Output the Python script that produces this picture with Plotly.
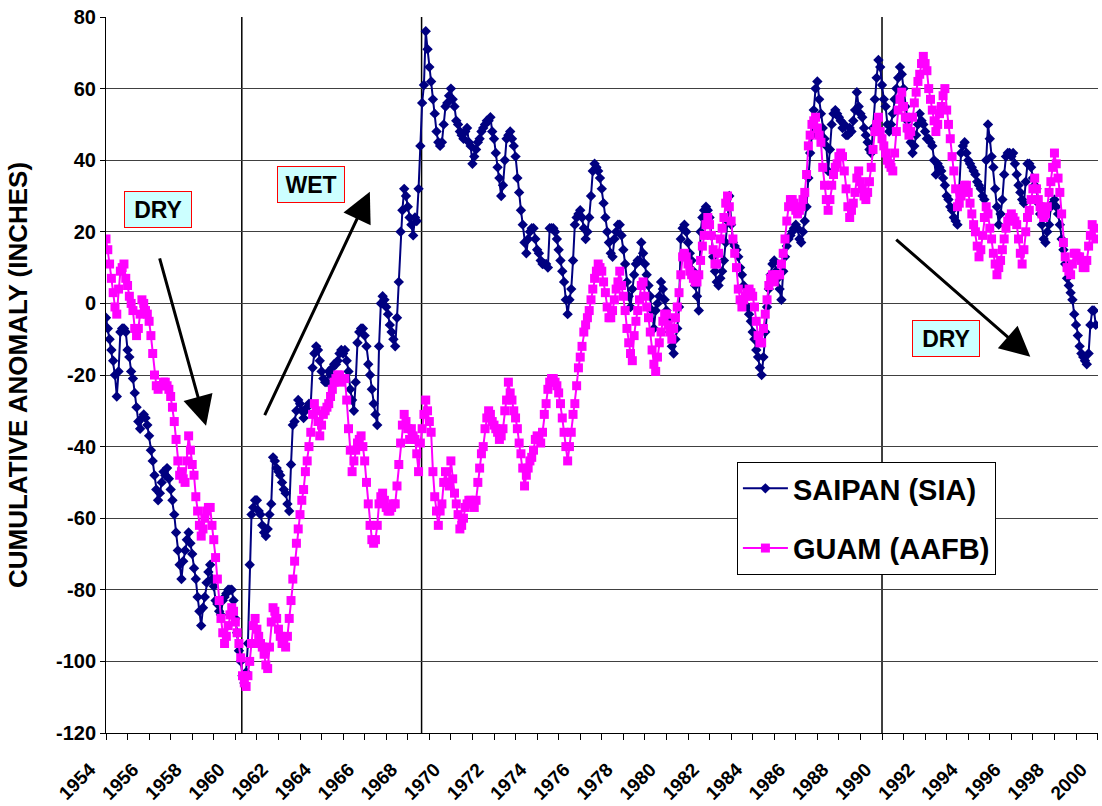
import numpy as np
import plotly.graph_objects as go

FONT = "Liberation Sans, Arial, sans-serif"
START_YEAR = 1954

# Cumulative monthly rainfall anomaly (inches), January 1954 .. December 1999
saipan = [
    -4, -7, -10, -13, -16, -20, -26, -19, -8, -7, -7, -8,            # 1954
    -13, -15, -19, -21, -25, -29, -33, -35, -32, -31, -32, -34,      # 1955
    -37, -41, -44, -48, -52, -55, -53, -50, -47, -48, -46, -49,      # 1956
    -52, -55, -59, -64, -69, -73, -77, -72, -69, -66, -64, -67,      # 1957
    -70, -74, -77, -82, -86, -90, -85, -82, -78, -75, -73, -77,      # 1958
    -79, -83, -84, -86, -87, -83, -82, -81, -80, -80, -80, -83,      # 1959
    -88, -92, -97, -100, -104, -106, -103, -95, -73, -59, -57, -55,  # 1960
    -55, -58, -59, -62, -64, -65, -63, -59, -56, -43, -44, -46,      # 1961
    -47, -48, -50, -52, -53, -56, -58, -45, -34, -33, -30, -27,      # 1962
    -28, -30, -32, -30, -29, -28, -28, -18, -14, -12, -13, -16,      # 1963
    -19, -21, -22, -22, -19, -20, -18, -17, -17, -16, -14, -13,      # 1964
    -14, -13, -16, -19, -24, -27, -30, -22, -11, -8, -7, -7,         # 1965
    -9, -12, -17, -20, -24, -28, -31, -34, -12, 0, 2, 1,             # 1966
    -1, -3, -6, -8, -10, -12, -4, 6, 20, 26, 32, 30,                 # 1967
    27, 24, 22, 19, 24, 23, 32, 44, 56, 61, 76, 71,                  # 1968
    66, 62, 57, 53, 48, 45, 44, 45, 50, 55, 56, 58,                  # 1969
    60, 57, 55, 51, 50, 48, 47, 46, 48, 49, 45, 44,                  # 1970
    39, 41, 43, 45, 46, 48, 49, 50, 51, 51, 52, 48,                  # 1971
    46, 42, 38, 35, 30, 33, 40, 46, 47, 48, 46, 44,                  # 1972
    41, 35, 31, 26, 22, 17, 14, 18, 20, 21, 21, 18,                  # 1973
    15, 14, 12, 11, 11, 11, 10, 21, 21, 21, 20, 18,                  # 1974
    15, 12, 9, 6, 1, -3, 1, 4, 12, 22, 24, 25,                       # 1975
    26, 24, 21, 18, 20, 24, 30, 37, 39, 38, 37, 35,                  # 1976
    32, 28, 24, 20, 17, 14, 13, 18, 20, 22, 22, 19,                  # 1977
    15, 11, 6, 2, -1, 4, 8, 11, 12, 12, 17, 14,                      # 1978
    11, 8, 5, 2, -2, -7, -2, 0, 2, 6, 4, 1,                          # 1979
    -2, -5, -8, -12, -14, -10, -7, -1, 18, 21, 22, 20,               # 1980
    17, 14, 12, 9, 5, 2, -2, 20, 24, 26, 27, 26,                     # 1981
    24, 19, 13, 9, 6, 5, 7, 9, 12, 17, 23, 30,                       # 1982
    22, 17, 16, 15, 13, 10, 8, 5, 2, -1, -3, -5,                     # 1983
    -8, -10, -13, -15, -18, -20, -15, -8, -1, 4, 8, 11,              # 1984
    12, 9, 7, 4, 1, 9, 13, 16, 18, 19, 20, 21,                       # 1985
    22, 21, 18, 17, 20, 23, 27, 35, 42, 47, 54, 60,                  # 1986
    62, 57, 53, 49, 46, 44, 37, 43, 50, 53, 54, 53,                  # 1987
    52, 51, 49, 50, 47, 47, 49, 48, 51, 54, 59, 55,                  # 1988
    53, 52, 49, 47, 45, 43, 42, 49, 57, 63, 68, 66,                  # 1989
    61, 57, 55, 50, 48, 50, 53, 57, 60, 63, 66, 64,                  # 1990
    60, 55, 51, 48, 45, 42, 44, 47, 50, 53, 51, 50,                  # 1991
    48, 46, 46, 45, 44, 40, 36, 39, 38, 37, 35, 33,                  # 1992
    30, 29, 27, 26, 24, 23, 22, 32, 42, 44, 45, 42,                  # 1993
    40, 39, 38, 37, 36, 34, 33, 32, 30, 29, 40, 50,                  # 1994
    46, 41, 38, 32, 27, 22, 25, 29, 36, 41, 42, 42,                  # 1995
    41, 42, 39, 36, 33, 31, 29, 28, 34, 39, 39, 38,                  # 1996
    35, 33, 32, 28, 25, 22, 18, 17, 20, 22, 27, 28,                  # 1997
    29, 27, 25, 22, 18, 15, 11, 7, 5, 3, 1, -3,                      # 1998
    -6, -9, -12, -14, -15, -16, -17, -14, -6, -2, -2, -6,            # 1999
]

guam = [
    18, 15, 11, 7, 3, -1, -3, 4, 9, 10, 11, 7,                       # 1954
    5, 2, 0, -2, -7, -9, -7, -3, 1, 0, -2, -3,                       # 1955
    -5, -9, -14, -20, -23, -24, -23, -23, -22, -22, -23, -24,        # 1956
    -26, -29, -33, -38, -44, -48, -47, -49, -50, -44, -37, -41,      # 1957
    -45, -48, -54, -58, -62, -65, -63, -60, -58, -57, -57, -62,      # 1958
    -66, -71, -77, -83, -88, -92, -95, -93, -90, -87, -85, -86,      # 1959
    -89, -92, -95, -99, -104, -106, -107, -104, -100, -95, -90, -88, # 1960
    -91, -93, -95, -96, -98, -101, -102, -96, -89, -85, -86, -88,    # 1961
    -91, -93, -95, -95, -96, -93, -88, -83, -77, -72, -67, -63,      # 1962
    -59, -55, -52, -47, -44, -40, -36, -31, -28, -30, -33, -37,      # 1963
    -34, -31, -30, -29, -28, -26, -24, -22, -21, -20, -20, -22,      # 1964
    -21, -21, -27, -35, -41, -47, -44, -41, -39, -38, -37, -40,      # 1965
    -44, -50, -56, -62, -66, -67, -66, -62, -56, -54, -53, -55,      # 1966
    -57, -58, -58, -57, -56, -56, -51, -45, -39, -34, -31, -33,      # 1967
    -35, -38, -35, -37, -38, -42, -47, -39, -35, -31, -27, -30,      # 1968
    -33, -36, -47, -54, -58, -62, -58, -56, -50, -47, -50, -51,      # 1969
    -44, -49, -53, -56, -59, -63, -62, -60, -57, -56, -55, -55,      # 1970
    -56, -57, -55, -50, -46, -42, -40, -35, -32, -30, -31, -33,      # 1971
    -34, -35, -36, -38, -37, -35, -30, -27, -22, -25, -27, -30,      # 1972
    -32, -35, -39, -42, -46, -51, -48, -46, -44, -43, -41, -38,      # 1973
    -37, -38, -39, -36, -31, -28, -24, -22, -21, -21, -22, -23,      # 1974
    -25, -28, -32, -36, -40, -44, -40, -36, -31, -28, -23, -18,      # 1975
    -15, -12, -8, -6, -4, -2, 1, 4, 7, 9, 11, 10,                    # 1976
    9, 6, 3, -1, -4, -4, -2, 1, 4, 6, 9, 5,                          # 1977
    2, -2, -7, -11, -14, -16, -9, -5, -2, 1, 5, 6,                   # 1978
    2, -1, -4, -8, -13, -17, -19, -15, -11, -8, -5, -3,              # 1979
    -3, -6, -8, -10, -7, -4, -1, 3, 8, 13, 14, 13,                   # 1980
    11, 9, 8, 7, 6, 6, 8, 12, 16, 19, 22, 24,                        # 1981
    22, 19, 15, 11, 11, 14, 18, 21, 24, 28, 30, 27,                  # 1982
    23, 18, 14, 10, 4, 1, -1, 1, 2, 3, 4, 3,                         # 1983
    2, -1, -5, -9, -11, -11, -7, -3, 1, 5, 7, 8,                     # 1984
    6, 8, 8, 8, 11, 14, 18, 23, 27, 29, 29, 28,                      # 1985
    26, 25, 26, 27, 29, 31, 36, 44, 47, 50, 51, 52,                  # 1986
    49, 47, 45, 38, 33, 29, 26, 29, 33, 36, 38, 39,                  # 1987
    41, 42, 41, 37, 32, 27, 24, 26, 28, 31, 35, 37,                  # 1988
    34, 32, 30, 29, 31, 34, 38, 43, 48, 50, 52, 48,                  # 1989
    46, 44, 42, 40, 39, 38, 37, 42, 48, 54, 57, 59,                  # 1990
    55, 52, 49, 47, 48, 52, 56, 59, 62, 64, 67, 69,                  # 1991
    67, 65, 60, 57, 54, 51, 48, 50, 53, 55, 58, 60,                  # 1992
    54, 50, 46, 41, 37, 32, 27, 28, 30, 32, 33, 33,                  # 1993
    31, 28, 25, 22, 20, 16, 13, 15, 19, 24, 27, 25,                  # 1994
    21, 18, 14, 11, 8, 10, 12, 15, 18, 21, 23, 24,                   # 1995
    25, 24, 23, 22, 18, 14, 11, 15, 20, 24, 26, 29,                  # 1996
    32, 35, 32, 29, 27, 25, 24, 25, 27, 31, 34, 38,                  # 1997
    42, 39, 35, 31, 25, 17, 13, 10, 9, 8, 11, 14,                    # 1998
    14, 13, 13, 12, 10, 10, 12, 16, 19, 22, 21, 18,                  # 1999
]

# monthly positions along the year axis
months = START_YEAR + np.arange(len(saipan)) / 12.0

x_tick_years = list(range(1954, 2001, 2))
x_tick_labels = [str(v) for v in x_tick_years]
y_tick_values = list(range(-120, 81, 20))
y_tick_labels = [str(v) for v in y_tick_values]

# reference years marked with vertical rules
marker_years = [1960.3, 1968.64, 1990.0]

# trend labels (text, year, value) and arrows (tail -> head)
trend_labels = [("DRY", 1956.43, 26.2), ("WET", 1963.53, 33.1), ("DRY", 1992.95, -9.9)]
trend_arrows = [
    ((1956.47, 13.0), (1958.64, -34.2)),
    ((1961.33, -31.6), (1966.24, 31.2)),
    ((1990.59, 18.2), (1996.88, -14.9)),
]

fig = go.Figure()
fig.add_trace(go.Scatter(
    x=months, y=saipan, mode="lines+markers", name="SAIPAN (SIA)",
    legendgroup="saipan",
    line=dict(color="#000080", width=2),
    marker=dict(symbol="diamond", size=8, color="#000080"),
))
fig.add_trace(go.Scatter(
    x=months, y=guam, mode="lines+markers", name="GUAM (AAFB)",
    legendgroup="guam",
    line=dict(color="#FF00FF", width=2),
    marker=dict(symbol="square", size=9, color="#FF00FF"),
))

for yr in marker_years:
    fig.add_shape(type="line", xref="x", yref="y", x0=yr, x1=yr, y0=-120, y1=80,
                  line=dict(color="black", width=1.5), layer="below")

annotations = []
for text, xv, yv in trend_labels:
    annotations.append(dict(
        x=xv, y=yv, xref="x", yref="y", text=f"<b>{text}</b>", showarrow=False,
        font=dict(family=FONT, size=23, color="black"),
        bgcolor="#CCFFFF", bordercolor="#FF0000", borderwidth=1, borderpad=1,
        width=64, height=33,
    ))
for (tx, ty), (hx, hy) in trend_arrows:
    annotations.append(dict(
        x=hx, y=hy, ax=tx, ay=ty, xref="x", yref="y", axref="x", ayref="y",
        text="", showarrow=True, arrowhead=2, arrowsize=2.0, arrowwidth=3,
        arrowcolor="black", standoff=0, startstandoff=0,
    ))

fig.update_layout(
    width=1102, height=806,
    margin=dict(l=106, r=4, t=17, b=73),
    paper_bgcolor="white", plot_bgcolor="white",
    font=dict(family=FONT, color="black"),
    showlegend=True,
    legend=dict(
        x=0.636, y=0.3785, xanchor="left", yanchor="top",
        bgcolor="white", bordercolor="black", borderwidth=1,
        font=dict(family=FONT, size=29, color="black", weight="bold"),
        tracegroupgap=19, itemwidth=45,
    ),
    annotations=annotations,
    xaxis=dict(
        range=[1954, 2000.02], tickmode="array", tickvals=x_tick_years, ticktext=x_tick_labels,
        tickangle=-45, ticks="outside", ticklen=6, tickcolor="black", tickwidth=1,
        ticklabelstandoff=11, ticklabelshift=-16, ticklabeloverflow="allow",
        tickfont=dict(family=FONT, size=19, color="black", weight="bold"),
        showline=True, linecolor="black", linewidth=1, mirror=False,
        showgrid=False, zeroline=False, automargin=False,
        minor=dict(dtick=1, tick0=1954, ticks="outside", ticklen=6, tickcolor="black",
                   showgrid=False),
    ),
    yaxis=dict(
        range=[-120, 80], tickmode="array", tickvals=y_tick_values, ticktext=y_tick_labels,
        ticks="outside", ticklen=5, tickcolor="black",
        tickfont=dict(family=FONT, size=20, color="black", weight="bold"),
        showline=True, linecolor="black", linewidth=1,
        showgrid=True, gridcolor="#404040", gridwidth=1, zeroline=False,
        automargin=False,
        title=dict(text="CUMULATIVE ANOMALY (INCHES)", standoff=20,
                   font=dict(family=FONT, size=26, color="black", weight="bold")),
    ),
    yaxis2=dict(
        overlaying="y", side="right", range=[0, 12], tickmode="linear", tick0=0, dtick=1,
        ticks="inside", ticklen=5, tickcolor="black", showticklabels=False,
        showline=True, linecolor="black", linewidth=1, showgrid=False, zeroline=False,
        automargin=False,
    ),
)

fig.write_html("out.html")
